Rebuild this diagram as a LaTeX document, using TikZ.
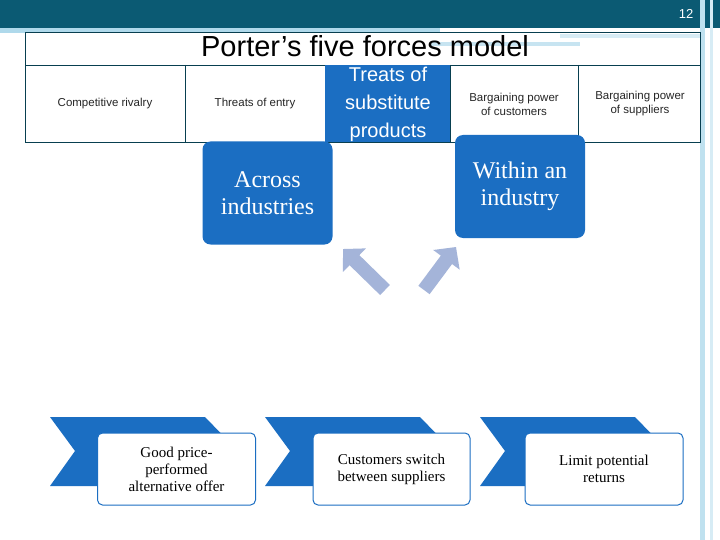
\documentclass[tikz,border=0pt]{standalone}
\usepackage{fontspec}
\setmainfont{Liberation Serif}
\newfontfamily\sansf{Liberation Sans}
\usetikzlibrary{arrows.meta}
\definecolor{teal}{HTML}{0B5A73}
\definecolor{blu}{HTML}{1B6EC2}
\definecolor{lblu}{HTML}{A4B4D9}
\definecolor{strip}{HTML}{5FB3D6}
\tikzset{
 cell/.style={draw=teal!70!black,line width=0.6pt},
 ctext/.style={font=\sansf\fontsize{11.5}{14}\selectfont,align=center,text=black!85},
 bigbox/.style={fill=blu,rounded corners=8pt,text=white,font=\fontsize{24}{27}\selectfont,align=center},
 chev/.style={fill=blu},
 wbox/.style={draw=blu,line width=1pt,rounded corners=5pt,fill=white,font=\fontsize{15}{17}\selectfont,align=center,text=black},
}
\begin{document}
\begin{tikzpicture}[x=1pt,y=-1pt]
\useasboundingbox (0,0) rectangle (720,540);
\fill[white] (0,0) rectangle (720,540);
% header decoration
\fill[teal] (0,0) rectangle (720,28);
\fill[strip!50] (0,28) rectangle (440,33);
\fill[strip!35] (430,42) rectangle (580,46);
\fill[strip!25] (560,34) rectangle (700,38);
\fill[strip!40] (700,0) rectangle (705,540);
\fill[strip!25] (710,0) rectangle (713,540);
\node[text=white,font=\sansf\fontsize{13}{14}\selectfont] (pg) at (686,14) {12};
% table
\draw[cell] (25,32) rectangle (700,142);
\draw[cell] (25,65) -- (700,65);
\foreach \x in {185,325,450,578} \draw[cell] (\x,65) -- (\x,142);
\fill[blu] (325,65) rectangle (450,142);
\node[font=\sansf\fontsize{29}{31}\selectfont] (title) at (365,46) {Porter’s five forces model};
\node[ctext] (c1) at (105,104) {Competitive rivalry};
\node[ctext] (c2) at (255,104) {Threats of entry};
\node[text=white,font=\sansf\fontsize{20}{28}\selectfont,align=center] (c3) at (388,104) {Treats of\\substitute\\products};
\node[ctext] (c4) at (514,104) {Bargaining power\\of customers};
\node[ctext] (c5) at (640,104) {Bargaining power\\of suppliers};
% big boxes
\node[bigbox,minimum width=130pt,minimum height=103pt] (across) at (267.5,193) {Across\\industries};
\node[bigbox,minimum width=130pt,minimum height=103pt] (within) at (520,186.5) {Within an\\industry};
% arrows
\coordinate (la) at (385,290);
\coordinate (lb) at (343,249);
\coordinate (ra) at (424,290);
\coordinate (rb) at (456,247);
\draw[lblu,line width=14pt,-{Triangle[width=32pt,length=16pt]}] (la) -- (lb);
\draw[lblu,line width=14pt,-{Triangle[width=32pt,length=16pt]}] (ra) -- (rb);
% chevrons
\foreach \a/\n in {50/1,265/2,480/3}{
  \fill[chev] (\a,417) -- (\a+155,417) -- (\a+188,451) -- (\a+155,486) -- (\a,486) -- (\a+25,451) -- cycle;
}
\node[wbox,minimum width=158pt,minimum height=72pt] (g) at (176.5,469) {Good price-\\performed\\alternative offer};
\node[wbox,minimum width=157pt,minimum height=72pt] (s) at (391.5,469) {Customers switch\\between suppliers};
\node[wbox,minimum width=158pt,minimum height=72pt] (l) at (604,469) {Limit potential\\returns};
\end{tikzpicture}
\end{document}
